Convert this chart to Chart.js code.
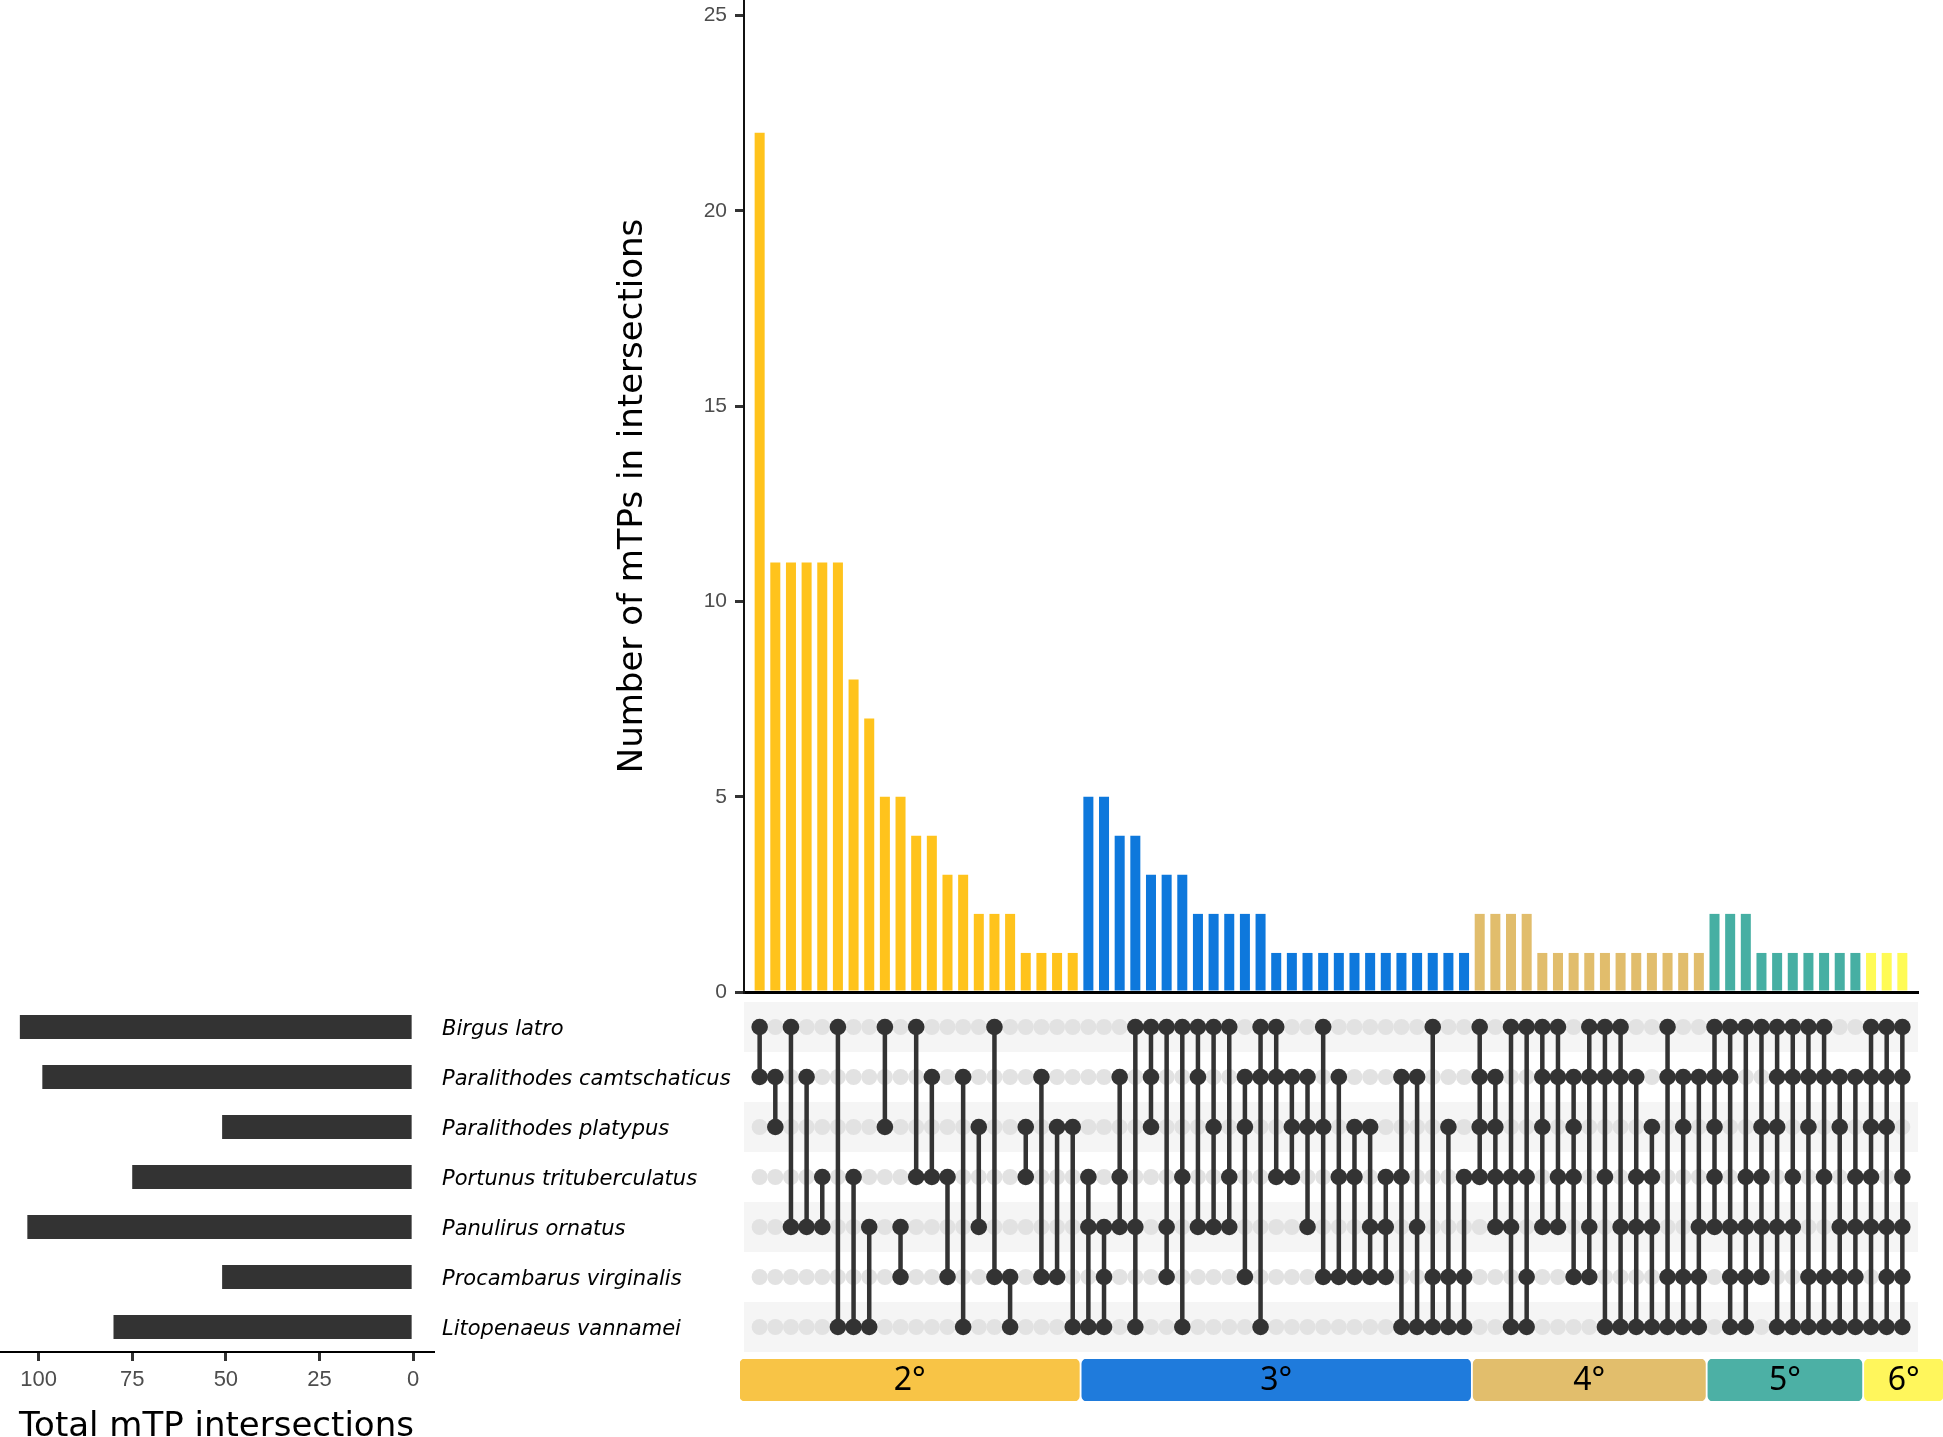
<!DOCTYPE html>
<html>
<head>
<meta charset="utf-8">
<script src="https://cdn.jsdelivr.net/npm/chart.js@4.4.1/dist/chart.umd.min.js"></script>
<style>
  body { margin: 0; background: #fff; width: 1943px; height: 1437px; position: relative; overflow: hidden; }
  canvas { position: absolute; }
</style>
</head>
<body>
<canvas id="barCanvas" width="1383" height="1000" style="left:560px;top:0px"></canvas>
<canvas id="matrixCanvas" width="1199" height="350" style="left:744px;top:1002px"></canvas>
<canvas id="sizeCanvas" width="740" height="435" style="left:0px;top:1002px"></canvas>
<canvas id="degreeCanvas" width="1203" height="42" style="left:740px;top:1359px"></canvas>
<script>
// species (matrix rows, top to bottom)
var species = ['Birgus latro', 'Paralithodes camtschaticus', 'Paralithodes platypus',
  'Portunus trituberculatus', 'Panulirus ornatus', 'Procambarus virginalis', 'Litopenaeus vannamei'];
var speciesTotals = [105, 99, 51, 75, 103, 51, 80];

// intersections: members given as row indexes into species
var intersectionSets = [
  [0,1],[1,2],[0,4],[1,4],[3,4],[0,6],[3,6],[4,6],[0,2],[4,5],[0,3],[1,3],[3,5],[1,6],[2,4],[0,5],[5,6],[2,3],[1,5],[2,5],[2,6],
  [3,4,6],[4,5,6],[1,3,4],[0,4,6],[0,1,2],[0,4,5],[0,3,6],[0,1,4],[0,2,4],[0,3,4],[1,2,5],[0,1,6],[0,1,3],[1,2,3],[1,2,4],
  [0,2,5],[1,3,5],[2,3,5],[2,4,5],[3,4,5],[1,3,6],[1,4,6],[0,5,6],[2,5,6],[3,5,6],
  [0,1,2,3],[1,2,3,4],[0,3,4,6],[0,3,5,6],[0,1,2,4],[0,1,3,4],[1,2,3,5],[0,1,4,5],[0,1,3,6],[0,1,4,6],[1,3,4,6],[2,3,4,6],
  [0,1,5,6],[1,2,5,6],[1,4,5,6],
  [0,1,2,3,4],[0,1,4,5,6],[0,3,4,5,6],[0,2,3,4,5],[0,1,2,4,6],[0,1,3,4,6],[0,1,2,5,6],[0,1,3,5,6],[1,2,4,5,6],[1,3,4,5,6],
  [0,1,2,3,4,6],[0,1,2,4,5,6],[0,1,3,4,5,6]
];
var intersectionCounts = [
  22,11,11,11,11,11,8,7,5,5,4,4,3,3,2,2,2,1,1,1,1,
  5,5,4,4,3,3,3,2,2,2,2,2,1,1,1,1,1,1,1,1,1,1,1,1,1,
  2,2,2,2,1,1,1,1,1,1,1,1,1,1,1,
  2,2,2,1,1,1,1,1,1,1,
  1,1,1
];

var degreeLabels = ['2°', '3°', '4°', '5°', '6°'];
var countTicks = [0, 5, 10, 15, 20, 25];
var totalTicks = [0, 25, 50, 75, 100];

var degreeBarColors = ['#FFC31C', '#0E78DC', '#E1BD6C', '#46AFA3', '#FFFB55'];
var degreeBoxColors = ['#F8C446', '#1F7BDC', '#E2BE6C', '#4CB0A5', '#FFF65C'];

Chart.defaults.font.family = "'DejaVu Sans'";
Chart.defaults.animation = false;
Chart.defaults.responsive = false;
Chart.defaults.plugins.legend.display = false;
Chart.defaults.plugins.tooltip.enabled = false;

var degreeOf = intersectionSets.map(function(s){ return s.length; });

// top: intersection sizes
new Chart(document.getElementById('barCanvas'), {
  type: 'bar',
  data: {
    datasets: [{
      data: intersectionCounts.map(function(v, i){ return {x: i, y: v}; }),
      backgroundColor: degreeOf.map(function(d){ return degreeBarColors[d - 2]; }),
      barPercentage: 0.64,
      categoryPercentage: 1
    }]
  },
  options: {
    layout: {padding: {top: 0, right: 25, bottom: 0, left: 0}},
    scales: {
      x: {
        type: 'linear', min: -1, max: 74, offset: false,
        ticks: {display: false},
        grid: {display: false, drawTicks: false},
        border: {display: true, color: '#000', width: 3},
        afterFit: function(s){ s.height = 8; s.paddingLeft = 0; s.paddingRight = 0; }
      },
      y: {
        min: 0, max: 25.4,
        afterBuildTicks: function(s){ s.ticks = countTicks.map(function(v){ return {value: v}; }); },
        ticks: {font: {family: "'Liberation Sans'", size: 21}, color: '#4d4d4d', padding: 8},
        grid: {drawOnChartArea: false, tickLength: 9, lineWidth: 3, color: '#333'},
        border: {color: '#111', width: 2},
        title: {
          display: true, text: 'Number of mTPs in intersections', color: '#000',
          font: {size: 34}, padding: {top: 53, bottom: 0}
        },
        afterFit: function(s){ s.width = 184; s.paddingTop = 0; s.paddingBottom = 0; }
      }
    }
  }
});

// matrix of dots
var grayPts = [], darkPts = [], linkPts = [];
intersectionSets.forEach(function(set, i){
  species.forEach(function(sp, r){
    if (set.indexOf(r) < 0) grayPts.push({x: i, y: r});
  });
  set.forEach(function(r){ darkPts.push({x: i, y: r}); });
  linkPts.push({x: i, y: Math.min.apply(null, set)});
  linkPts.push({x: i, y: Math.max.apply(null, set)});
  linkPts.push({x: i, y: null});
});

var bandPlugin = {
  id: 'bands',
  beforeDatasetsDraw: function(chart){
    var ctx = chart.ctx, a = chart.chartArea, y = chart.scales.y;
    ctx.save();
    ctx.fillStyle = '#f5f5f5';
    species.forEach(function(sp, r){
      if (r % 2 !== 0) return;
      var p1 = y.getPixelForValue(r - 0.5), p2 = y.getPixelForValue(r + 0.5);
      ctx.fillRect(a.left, Math.min(p1, p2), a.right - a.left, Math.abs(p2 - p1));
    });
    ctx.restore();
  }
};

new Chart(document.getElementById('matrixCanvas'), {
  type: 'scatter',
  data: {
    datasets: [
      {data: darkPts, pointRadius: 8.3, pointHoverRadius: 8.3, backgroundColor: '#333', borderWidth: 0, order: 0},
      {data: linkPts, showLine: true, spanGaps: false, pointRadius: 0, borderColor: '#333', borderWidth: 4.5, order: 1},
      {data: grayPts, pointRadius: 8, pointHoverRadius: 8, backgroundColor: '#e2e2e2', borderWidth: 0, order: 2}
    ]
  },
  options: {
    layout: {autoPadding: false, padding: {top: 0, right: 25, bottom: 0, left: 0}},
    scales: {
      x: {type: 'linear', min: -1, max: 74, display: false},
      y: {type: 'linear', min: -0.5, max: 6.5, reverse: true, display: false}
    }
  },
  plugins: [bandPlugin]
});

// left: totals per species
new Chart(document.getElementById('sizeCanvas'), {
  type: 'bar',
  data: {
    labels: species,
    datasets: [{data: speciesTotals, backgroundColor: '#333', barPercentage: 0.48, categoryPercentage: 1}]
  },
  options: {
    indexAxis: 'y',
    layout: {padding: 0},
    scales: {
      x: {
        min: -5.3, max: 110.3, reverse: true,
        afterBuildTicks: function(s){ s.ticks = totalTicks.map(function(v){ return {value: v}; }); },
        ticks: {font: {family: "'Liberation Sans'", size: 22}, color: '#4d4d4d', padding: 6, maxRotation: 0},
        grid: {drawOnChartArea: false, tickLength: 9, lineWidth: 3, color: '#333'},
        border: {color: '#000', width: 2},
        title: {display: true, text: 'Total mTP intersections', color: '#000', font: {size: 34, lineHeight: 0.6}, padding: 0},
        afterFit: function(s){ s.height = 85; s.paddingLeft = 0; s.paddingRight = 0; }
      },
      y: {
        position: 'right',
        grid: {display: false, drawTicks: false},
        border: {display: false},
        ticks: {font: {size: 21, style: 'italic'}, color: '#000', padding: 9, labelOffset: 3},
        afterFit: function(s){ s.width = 307; s.paddingTop = 0; s.paddingBottom = 0; }
      }
    }
  }
});

// degree strip
var degreeSpans = degreeLabels.map(function(lab, k){
  var cols = [];
  degreeOf.forEach(function(d, i){ if (d === k + 2) cols.push(i); });
  return [Math.min.apply(null, cols) - 0.42, Math.max.apply(null, cols) + 0.42];
});
degreeSpans[0][0] = -1.26;
degreeSpans[degreeSpans.length - 1][1] = 75.6;

var boxLabelPlugin = {
  id: 'boxLabels',
  afterDatasetsDraw: function(chart){
    var ctx = chart.ctx;
    ctx.save();
    ctx.font = "32px 'Noto Sans'";
    ctx.fillStyle = '#000';
    ctx.textAlign = 'center';
    ctx.textBaseline = 'middle';
    chart.data.datasets.forEach(function(ds, k){
      var el = chart.getDatasetMeta(k).data[0];
      ctx.fillText(ds.label, (el.x + el.base) / 2, el.y + 1);
    });
    ctx.restore();
  }
};

new Chart(document.getElementById('degreeCanvas'), {
  type: 'bar',
  data: {
    labels: ['degree'],
    datasets: degreeLabels.map(function(lab, k){
      return {
        label: lab, data: [degreeSpans[k]], backgroundColor: degreeBoxColors[k],
        borderRadius: 5, borderSkipped: false, barPercentage: 1, categoryPercentage: 1, grouped: false
      };
    })
  },
  options: {
    indexAxis: 'y',
    layout: {padding: 0},
    scales: {
      x: {type: 'linear', min: -1.26, max: 75.6, display: false},
      y: {display: false}
    }
  },
  plugins: [boxLabelPlugin]
});
</script>
</body>
</html>
